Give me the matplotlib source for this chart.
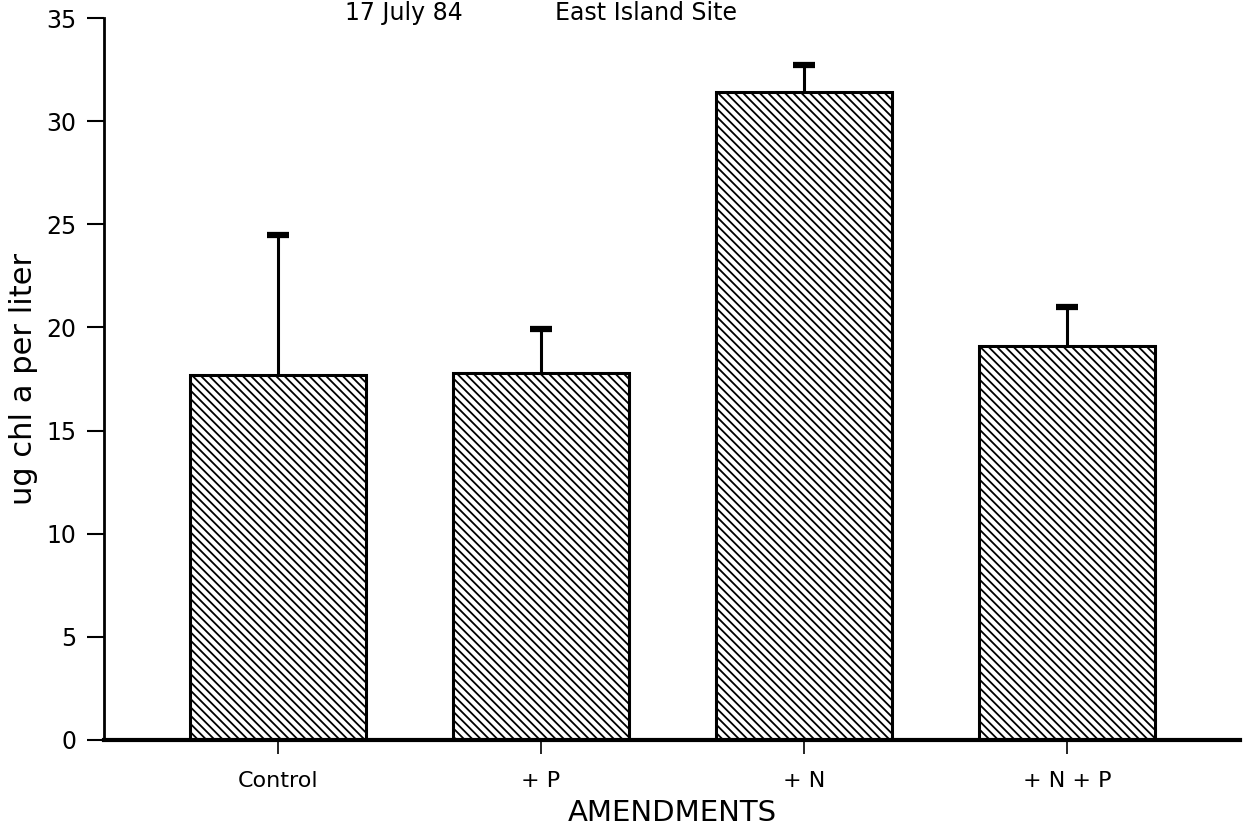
import matplotlib
matplotlib.use("Agg")
import matplotlib.pyplot as plt

# values
amendments = ["Control", "+ P", "+ N", "+ N + P"]
chl_mean = [17.7, 17.8, 31.4, 19.1]
chl_err = [6.8, 2.1, 1.3, 1.9]
y_ticks = [0, 5, 10, 15, 20, 25, 30, 35]

plt.rcParams["hatch.linewidth"] = 1.3
plt.rcParams["font.family"] = ["DejaVu Sans"]

fig = plt.figure(figsize=(12.45, 8.38), dpi=100)
ax = fig.add_axes([0.0835, 0.117, 0.9125, 0.8615])

x = list(range(len(amendments)))
ax.bar(x, chl_mean, width=0.67, color="white", edgecolor="black",
       linewidth=2.2, hatch="\\\\\\\\", zorder=2)

# upper-only error bars with a short heavy cap
tops = [m + e for m, e in zip(chl_mean, chl_err)]
ax.vlines(x, chl_mean, tops, color="black", linewidth=2.2, zorder=3)
ax.plot(x, tops, ls="none", marker="_", markersize=16, mew=4.5,
        color="black", zorder=3)

ax.set_xlim(-0.662, 3.658)
ax.set_ylim(0, 35)
ax.set_yticks(y_ticks)
ax.set_yticklabels([str(v) for v in y_ticks], fontsize=17)
ax.set_xticks(x)
ax.set_xticklabels(amendments, fontsize=16)
ax.tick_params(axis="y", length=12, width=1.5, pad=8)
ax.tick_params(axis="x", length=10, width=1.2, pad=12)

for side in ("top", "right"):
    ax.spines[side].set_visible(False)
ax.spines["left"].set_linewidth(2)
ax.spines["bottom"].set_linewidth(3)

ax.set_ylabel("ug chl a per liter", fontsize=22, labelpad=6)
ax.set_xlabel("AMENDMENTS", fontsize=21, labelpad=6)

# title sits at the very top edge of the scan
fig.text(0.277, 0.999, "17 July 84", fontsize=17, va="top")
fig.text(0.446, 0.999, "East Island Site", fontsize=17, va="top")

fig.savefig("out.png", dpi=100)
